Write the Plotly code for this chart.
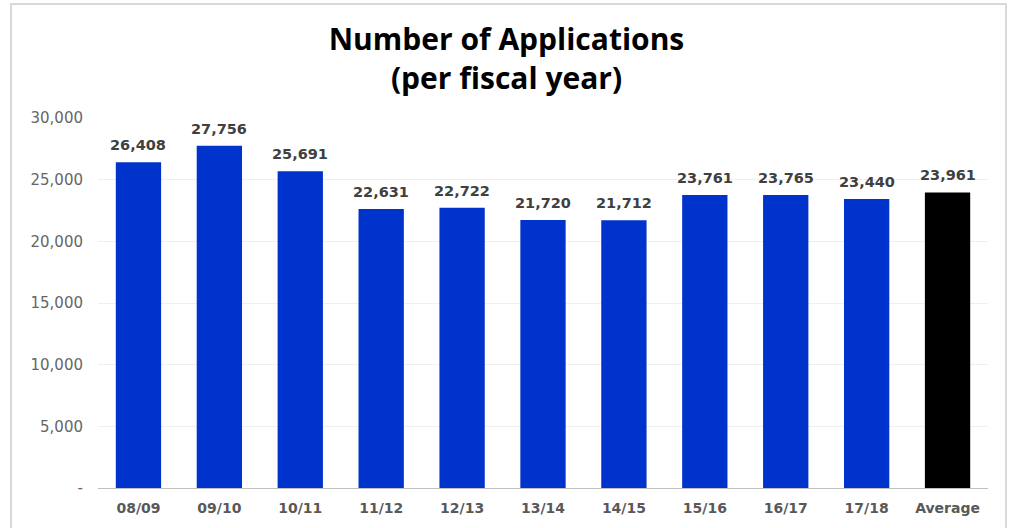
import plotly.graph_objects as go

# Applications per fiscal year, with the overall average as a final bar
categories = ["08/09", "09/10", "10/11", "11/12", "12/13", "13/14", "14/15",
              "15/16", "16/17", "17/18", "Average"]
applications = [26408, 27756, 25691, 22631, 22722, 21720, 21712,
                 23761, 23765, 23440, 23961]
bar_colors = ["#0033CC"] * 10 + ["#000000"]

y_tickvals = [0, 5000, 10000, 15000, 20000, 25000, 30000]
y_ticktext = ["-", "5,000", "10,000", "15,000", "20,000", "25,000", "30,000"]

W, H = 1013, 528
ml, mr, mt, mb = 98, 25, 118, 40
pw, ph = W - ml - mr, H - mt - mb


def px_x(x):
    return (x - ml) / pw


def px_y(y):
    return (H - mb - y) / ph


fig = go.Figure(
    go.Bar(
        x=categories,
        y=applications,
        marker=dict(color=bar_colors, line=dict(width=0)),
    )
)

# value labels above each bar
for cat, val in zip(categories, applications):
    fig.add_annotation(
        x=cat,
        y=val,
        text=f"<b>{val:,}</b>",
        showarrow=False,
        yanchor="bottom",
        yshift=7,
        font=dict(family="DejaVu Sans", size=14.5, color="#404040"),
    )

fig.update_layout(
    width=W,
    height=H,
    margin=dict(l=ml, r=mr, t=mt, b=mb),
    paper_bgcolor="white",
    plot_bgcolor="white",
    bargap=0.44,
    showlegend=False,
    title=dict(
        text="<b>Number of Applications<br>(per fiscal year)</b>",
        x=0.5,
        xanchor="center",
        y=1 - 50 / H,
        yanchor="middle",
        font=dict(family="Open Sans", size=30, color="#000000"),
    ),
    xaxis=dict(
        showgrid=False,
        showline=True,
        linecolor="#BFBFBF",
        linewidth=1,
        ticks="",
        ticklabelstandoff=7,
        tickfont=dict(family="DejaVu Sans", size=14, color="#595959", weight="bold"),
    ),
    yaxis=dict(
        range=[0, 30000],
        tickvals=y_tickvals,
        ticktext=y_ticktext,
        showgrid=True,
        gridcolor="#EFEFEF",
        gridwidth=1,
        zeroline=False,
        showline=False,
        ticks="",
        ticklabelstandoff=14,
        tickfont=dict(family="DejaVu Sans", size=15, color="#666666"),
    ),
    shapes=[
        dict(
            type="rect",
            xref="paper",
            yref="paper",
            x0=px_x(11),
            x1=px_x(1006),
            y0=px_y(540),
            y1=px_y(4),
            line=dict(color="#D9D9D9", width=2),
            fillcolor="rgba(0,0,0,0)",
            layer="below",
        )
    ],
)

fig.write_html("out.html")
